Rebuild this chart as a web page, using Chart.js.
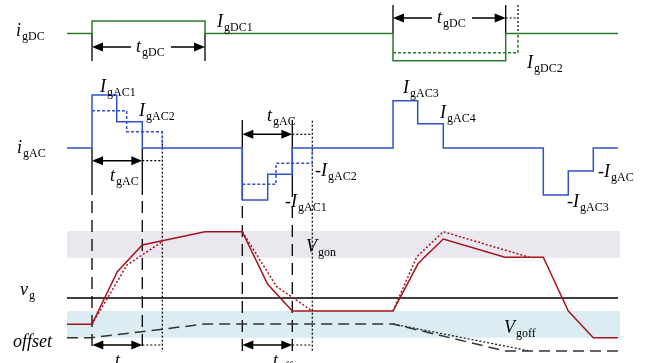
<!DOCTYPE html>
<html>
<head>
<meta charset="utf-8">
<script src="https://cdn.jsdelivr.net/npm/chart.js@4"></script>
<style>
  body { margin: 0; background: #fff; }
  canvas { display: block; }
</style>
</head>
<body>
<canvas id="timing" width="654" height="363"></canvas>
<script>
// time axis runs left to right, level axis runs top to bottom (picture units)
const igdcTime  = [67, 92, 92, 205, 205, 393, 393, 505.7, 505.7, 618];
const igdcLevel = [33.5, 33.5, 21, 21, 33.5, 33.5, 60.7, 60.7, 33.5, 33.5];
const igdcDotTime  = [393, 518, 518];
const igdcDotLevel = [52.7, 52.7, 33.5];

const igacTime  = [67, 92, 92, 116.7, 116.7, 142.3, 142.3, 242.3, 242.3, 267.7, 267.7, 292.3, 292.3,
                   393, 393, 417.7, 417.7, 443.3, 443.3, 543.3, 543.3, 568.3, 568.3, 593.3, 593.3, 618];
const igacLevel = [148, 148, 95, 95, 121.7, 121.7, 148, 148, 200, 200, 174.3, 174.3, 148,
                   148, 100.7, 100.7, 123.7, 123.7, 148, 148, 195, 195, 171, 171, 148, 148];
const igacDot1Time  = [92, 126.7, 126.7, 162.3, 162.3];
const igacDot1Level = [110.7, 110.7, 131.7, 131.7, 148];
const igacDot2Time  = [242.3, 276, 276, 312.3, 312.3];
const igacDot2Level = [184.3, 184.3, 163.3, 163.3, 148];

const vgTime  = [67, 92, 117.3, 142.3, 205, 242.3, 267.7, 292.3, 393, 418.3, 443.3, 505, 543.3, 568.3, 593.3, 618];
const vgLevel = [324.3, 324.3, 271.7, 245, 231.7, 231.7, 284.3, 311, 311, 263.3, 239, 257.3, 257.3, 311, 337.7, 337.7];
const vgDot1Time  = [92, 127, 162.3];
const vgDot1Level = [324.3, 265, 241.7];
const vgDot2Time  = [242.3, 276.7, 312.3];
const vgDot2Level = [231.7, 286.7, 311];
const vgDot3Time  = [393, 416.7, 443.3, 529.3];
const vgDot3Level = [311, 257, 231.7, 257.3];

const offsetTime  = [67, 92, 205, 393, 505, 618];
const offsetLevel = [337.7, 337.7, 324, 324, 351, 351];
const offsetDotTime  = [393, 530];
const offsetDotLevel = [324, 351];

const vgZero = 298;
const vgonBand = [231, 257.7];
const vgoffBand = [311, 337.7];
const span = [67, 620];

function pts(t, v) { return t.map((x, i) => ({ x: x, y: v[i] })); }
function seg(x0, y0, x1, y1) { return [{ x: x0, y: y0 }, { x: x1, y: y1 }]; }

const GREEN = '#2b7a2b', BLUE = '#3152c6', RED = '#a5141c';

function line(data, color, dash, width) {
  return { data: data, borderColor: color, borderWidth: width || 1.5, borderDash: dash || [], fill: false };
}

const datasets = [
  { data: seg(span[0], vgonBand[0], span[1], vgonBand[0]), borderWidth: 0, fill: '+1', backgroundColor: '#ebe7ee' },
  { data: seg(span[0], vgonBand[1], span[1], vgonBand[1]), borderWidth: 0, fill: false },
  { data: seg(span[0], vgoffBand[0], span[1], vgoffBand[0]), borderWidth: 0, fill: '+1', backgroundColor: '#dbedf3' },
  { data: seg(span[0], vgoffBand[1], span[1], vgoffBand[1]), borderWidth: 0, fill: false },

  // guide lines
  line(seg(92, 33.5, 92, 61), '#000', [], 1.3),
  line(seg(205, 33.5, 205, 61), '#000', [], 1.3),
  line(seg(393, 5, 393, 33.5), '#000', [], 1.3),
  line(seg(505.7, 5, 505.7, 33.5), '#000', [], 1.3),
  line(seg(92, 148, 92, 195), '#000', [], 1.3),
  line(seg(142.3, 148, 142.3, 195), '#000', [], 1.3),
  line(seg(242.3, 120, 242.3, 200), '#000', [], 1.3),
  line(seg(292.3, 120, 292.3, 197), '#000', [], 1.3),
  line(seg(92, 201, 92, 352), '#000', [12, 7], 1.3),
  line(seg(142.3, 201, 142.3, 352), '#000', [12, 7], 1.3),
  line(seg(242.3, 206, 242.3, 352), '#000', [12, 7], 1.3),
  line(seg(292.3, 206, 292.3, 352), '#000', [12, 7], 1.3),
  line(seg(162.3, 131.7, 162.3, 352), '#000', [2, 2], 1.2),
  line(seg(312.3, 120.7, 312.3, 352), '#000', [2, 2], 1.2),
  line(seg(518, 5, 518, 33.5), '#000', [2, 2], 1.2),
  line(seg(span[0], vgZero, 618, vgZero), '#000', [], 1.3),

  line(pts(igdcDotTime, igdcDotLevel), GREEN, [3, 2]),
  line(pts(igdcTime, igdcLevel), GREEN),
  line(pts(igacDot1Time, igacDot1Level), BLUE, [3, 2]),
  line(pts(igacDot2Time, igacDot2Level), BLUE, [3, 2]),
  line(pts(igacTime, igacLevel), BLUE),
  line(pts(offsetDotTime, offsetDotLevel), '#222', [2, 2], 1.3),
  line(pts(offsetTime, offsetLevel), '#333', [11, 6], 1.5),
  line(pts(vgDot1Time, vgDot1Level), RED, [2, 2]),
  line(pts(vgDot2Time, vgDot2Level), RED, [2, 2]),
  line(pts(vgDot3Time, vgDot3Level), RED, [2, 2]),
  line(pts(vgTime, vgLevel), RED)
];
// later entries are painted on top
datasets.forEach((d, i) => { d.order = -i; });

// label: [time, level(baseline), prefix, main, subscript]
const labels = [
  [16, 36, '', 'i', 'gDC'],
  [17, 153, '', 'i', 'gAC'],
  [20, 295, '', 'v', 'g'],
  [217, 27, '', 'I', 'gDC1'],
  [527, 68, '', 'I', 'gDC2'],
  [100, 92, '', 'I', 'gAC1'],
  [139, 116, '', 'I', 'gAC2'],
  [110, 181, '', 't', 'gAC'],
  [267, 121, '', 't', 'gAC'],
  [315, 176, '-', 'I', 'gAC2'],
  [285, 207, '-', 'I', 'gAC1'],
  [403, 93, '', 'I', 'gAC3'],
  [440, 118, '', 'I', 'gAC4'],
  [567, 207, '-', 'I', 'gAC3'],
  [598, 177, '-', 'I', 'gAC'],
  [306, 252, '', 'V', 'gon'],
  [504, 333, '', 'V', 'goff'],
  [115, 366, '', 't', 'on'],
  [273, 366, '', 't', 'off']
];
// arrows: [from, to, level, extendTo]
const arrows = [
  [92, 205, 47, null],
  [393, 505.7, 18, 518],
  [92, 142.3, 160.7, 162.3],
  [242.3, 292.3, 134.3, 312.3],
  [92.3, 142.3, 345, 162.7],
  [242.3, 292.3, 345, 312.3]
];

const SERIF = '"Liberation Serif", "Times New Roman", serif';

function drawLabel(ctx, x, y, prefix, main, sub) {
  ctx.textBaseline = 'alphabetic';
  ctx.textAlign = 'left';
  let cx = x;
  if (prefix) {
    ctx.font = '18px ' + SERIF;
    ctx.fillText(prefix, cx, y);
    cx += ctx.measureText(prefix).width;
  }
  ctx.font = 'italic 18px ' + SERIF;
  ctx.fillText(main, cx, y);
  cx += ctx.measureText(main).width + 1;
  ctx.font = '12px ' + SERIF;
  ctx.fillText(sub, cx, y + 4);
  return cx + ctx.measureText(sub).width;
}

function head(ctx, x, y, dir) {
  ctx.beginPath();
  ctx.moveTo(x, y);
  ctx.lineTo(x + dir * 11, y - 4.5);
  ctx.lineTo(x + dir * 11, y + 4.5);
  ctx.closePath();
  ctx.fill();
}

const annotate = {
  id: 'annotate',
  afterDatasetsDraw(chart) {
    const ctx = chart.ctx;
    const xs = chart.scales.x, ys = chart.scales.y;
    ctx.save();
    ctx.fillStyle = '#000';
    ctx.strokeStyle = '#000';
    arrows.forEach(a => {
      const x0 = xs.getPixelForValue(a[0]), x1 = xs.getPixelForValue(a[1]);
      const y = ys.getPixelForValue(a[2]);
      ctx.lineWidth = 1.5;
      ctx.setLineDash([]);
      ctx.beginPath(); ctx.moveTo(x0 + 4, y); ctx.lineTo(x1 - 4, y); ctx.stroke();
      head(ctx, x0, y, 1);
      head(ctx, x1, y, -1);
      if (a[3] !== null) {
        ctx.lineWidth = 1.2;
        ctx.setLineDash([2, 2]);
        ctx.beginPath(); ctx.moveTo(x1, y); ctx.lineTo(xs.getPixelForValue(a[3]), y); ctx.stroke();
        ctx.setLineDash([]);
      }
    });
    // t_gDC labels sit inside their arrows
    [[136, 52], [437, 23]].forEach(p => {
      const x = xs.getPixelForValue(p[0]), y = ys.getPixelForValue(p[1]);
      ctx.fillStyle = '#fff';
      ctx.fillRect(x - 5, y - 12, 40, 14);
      ctx.fillStyle = '#000';
      drawLabel(ctx, x, y, '', 't', 'gDC');
    });
    ctx.fillStyle = '#000';
    labels.forEach(l => {
      drawLabel(ctx, xs.getPixelForValue(l[0]), ys.getPixelForValue(l[1]), l[2], l[3], l[4]);
    });
    ctx.font = 'italic 18px ' + SERIF;
    ctx.fillText('offset', xs.getPixelForValue(13), ys.getPixelForValue(347));
    ctx.restore();
  }
};

new Chart(document.getElementById('timing'), {
  type: 'line',
  data: { datasets: datasets },
  options: {
    responsive: false,
    animation: false,
    layout: { padding: 0 },
    elements: { point: { radius: 0 }, line: { tension: 0 } },
    scales: {
      x: { type: 'linear', min: 0, max: 654, display: false },
      y: { type: 'linear', min: 0, max: 363, reverse: true, display: false }
    },
    plugins: { legend: { display: false }, tooltip: { enabled: false } }
  },
  plugins: [annotate]
});
</script>
</body>
</html>
